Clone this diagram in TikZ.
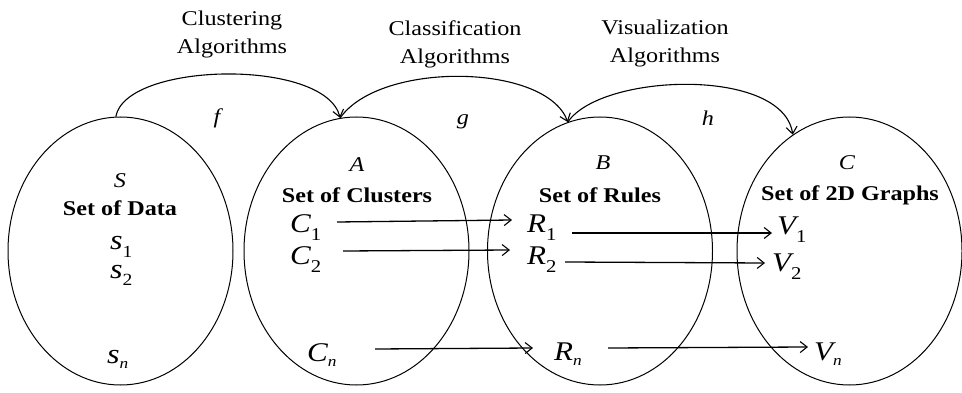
\documentclass[tikz,border=0pt]{standalone}
\usepackage{fontspec}
\setmainfont{Liberation Serif}[FakeStretch=1.15]
\usetikzlibrary{shapes.geometric,arrows.meta}
\newcommand\mv[3]{{\fontsize{27}{27}\selectfont\itshape #1}\kern#3\raisebox{-8pt}{\fontsize{18}{18}\selectfont #2}}
\newcommand\mvn[2]{{\fontsize{27}{27}\selectfont\itshape #1}\kern#2\raisebox{-5pt}{\fontsize{15}{15}\selectfont\itshape n}}
\newcommand\sv[1]{{\fontsize{28}{28}\selectfont\itshape s}\raisebox{-7pt}{\fontsize{17}{17}\selectfont #1}}
\begin{document}
\begin{tikzpicture}[x=1pt,y=-1pt,
  ell/.style={draw,ellipse,line width=1pt,minimum width=225pt,minimum height=268pt,inner sep=0pt},
  mth/.style={inner sep=0pt,anchor=base west},
  hdr/.style={inner sep=0pt,font=\fontsize{21}{21}\selectfont\itshape},
  ttl/.style={inner sep=0pt,font=\fontsize{21}{21}\selectfont\bfseries},
  alg/.style={inner sep=0pt,align=center,font=\fontsize{21}{28}\selectfont},
  fn/.style={inner sep=0pt,font=\fontsize{21}{21}\selectfont\itshape},
  con/.style={line width=1.3pt,-{Straight Barb[length=7pt,width=11pt,line width=1.1pt]}},
  arc/.style={line width=1.1pt,-{Straight Barb[length=7pt,width=11pt,line width=1.1pt]}}]
\path[use as bounding box] (0,0) rectangle (962,393);
% ellipses
\node[ell] (S) at (120.5,251) {};
\node[ell] (A) at (356.5,251) {};
\node[ell] (B) at (600,251) {};
\node[ell] (C) at (849.5,251) {};
% headers
\node[hdr] (hS) at (120,181) {S};
\node[hdr] (hA) at (357,165) {A};
\node[hdr] (hB) at (603,163) {B};
\node[hdr] (hC) at (847,163) {C};
\node[ttl] (tS) at (120,208) {Set of Data};
\node[ttl] (tA) at (357,195) {Set of Clusters};
\node[ttl] (tB) at (600,195) {Set of Rules};
\node[ttl] (tC) at (850,195) {Set of 2D Graphs};
% elements
\node[mth] (s1) at (110,250) {\sv{1}};
\node[mth] (s2) at (110,278) {\sv{2}};
\node[mth] (sn) at (107,363) {{\fontsize{28}{28}\selectfont\itshape s}\raisebox{-5pt}{\fontsize{15}{15}\selectfont\itshape n}};
\node[mth] (C1) at (290,233) {\mv{C}{1}{0pt}};
\node[mth] (C2) at (290,265) {\mv{C}{2}{0pt}};
\node[mth] (Cn) at (307,361) {\mvn{C}{0pt}};
\node[mth] (R1) at (527,233) {\mv{R}{1}{0pt}};
\node[mth] (R2) at (527,265) {\mv{R}{2}{0pt}};
\node[mth] (Rn) at (554,360) {\mvn{R}{0pt}};
\node[mth] (V1) at (777,235) {\mv{V}{1}{0pt}};
\node[mth] (V2) at (772,271) {\mv{V}{2}{0pt}};
\node[mth] (Vn) at (814,360) {\mvn{V}{0pt}};
% connectors
\draw[con] ([shift={(47,-11)}]C1.base west) -- ([shift={(-15,-13)}]R1.base west);
\draw[con] ([shift={(53,-14)}]C2.base west) -- ([shift={(-17,-15)}]R2.base west);
\draw[con] ([shift={(68,-12)}]Cn.base west) -- ([shift={(-21,-12)}]Rn.base west);
\draw[con] ([shift={(45,0)}]R1.base west) -- ([shift={(-5,-2)}]V1.base west);
\draw[con] ([shift={(38,-3)}]R2.base west) -- ([shift={(-7,-8)}]V2.base west);
\draw[con] ([shift={(54,-12)}]Rn.base west) -- ([shift={(-6,-13)}]Vn.base west);
% top labels
\node[alg] (la) at (232,34) {Clustering\\Algorithms};
\node[alg] (lb) at (455,44) {Classification\\Algorithms};
\node[alg] (lc) at (665,43) {Visualization\\Algorithms};
\node[fn] (f) at (217,118) {f};
\node[fn] (g) at (463,122) {g};
\node[fn] (h) at (708,118) {h};
% arcs
\draw[arc] (S.92) .. controls +(10,-55) and +(-15,-60) .. (A.97);
\draw[arc] (A.97) .. controls +(40,-57) and +(-22,-59) .. (B.104);
\draw[arc] (B.104) .. controls +(33,-49) and +(-10,-68) .. (C.116);
\end{tikzpicture}
\end{document}
